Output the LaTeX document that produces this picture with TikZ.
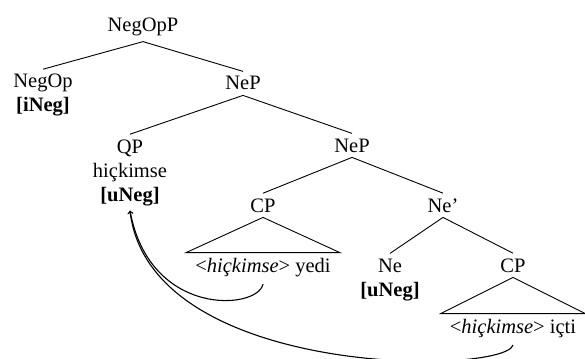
\documentclass[tikz,border=0pt]{standalone}
\usepackage{fontspec}
\setmainfont{Liberation Serif}
\usetikzlibrary{calc}

\tikzset{
  lbl/.style={anchor=base,align=center,inner sep=5pt},
  branch/.style={line width=0.9pt},
  movearrow/.style={line width=1.1pt,->},
}

\begin{document}
\begin{tikzpicture}[x=1pt,y=-1pt,font=\fontsize{20.5}{24}\selectfont]
  \useasboundingbox (0,0) rectangle (585,358);
  % tree nodes (multi-line nodes sit on their last line)
  \node[lbl] (negopp) at (143,32) {NegOpP};
  \node[lbl] (negop) at (43,112) {NegOp\\\textbf{[iNeg]}};
  \node[lbl] (nep) at (243,90) {NeP};
  \node[lbl] (qp) at (130,201) {QP\\hiçkimse\\\textbf{[uNeg]}};
  \node[lbl] (nepb) at (352,152) {NeP};
  \node[lbl] (cpa) at (263,212) {CP};
  \node[lbl] (nebar) at (443,212) {Ne'};
  \node[lbl] (yedi) at (263,272) {<\textit{hiçkimse}> yedi};
  \node[lbl] (ne) at (390,296) {Ne\\\textbf{[uNeg]}};
  \node[lbl] (cpb) at (513,272) {CP};
  \node[lbl] (icti) at (513,333) {<\textit{hiçkimse}> içti};
  % branches
  \draw[branch] (negopp.south) -- (negop.north);
  \draw[branch] (negopp.south) -- (nep.north);
  \draw[branch] (nep.south) -- (qp.north);
  \draw[branch] (nep.south) -- (nepb.north);
  \draw[branch] (nepb.south) -- (cpa.north);
  \draw[branch] (nepb.south) -- (nebar.north);
  \draw[branch] (nebar.south) -- (ne.north);
  \draw[branch] (nebar.south) -- (cpb.north);
  % triangles
  \draw[branch] (cpa.south) -- ([xshift=-4pt]yedi.north west) -- ([xshift=4pt]yedi.north east) -- cycle;
  \draw[branch] (cpb.south) -- ([xshift=-4pt]icti.north west) -- ([xshift=4pt]icti.north east) -- cycle;
  % movement
  \coordinate (trace1) at (263,284);
  \coordinate (trace2) at (513,345);
  \draw[movearrow] (trace1) .. controls (258,310) and (150,318) .. (qp.south);
  \draw[movearrow] (trace2) .. controls (505,375) and (150,380) .. (qp.south);
\end{tikzpicture}
\end{document}
